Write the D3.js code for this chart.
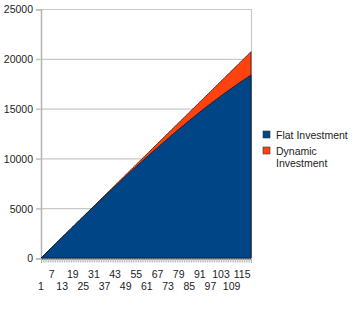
<!DOCTYPE html>
<html>
<head>
<meta charset="utf-8">
<script src="https://cdn.jsdelivr.net/npm/d3@7"></script>
<style>
  body { margin: 0; background: #fff; }
  text { font-family: "Liberation Sans", Arial, sans-serif; fill: #222; }
</style>
</head>
<body>
<svg class="chart" width="356" height="324"></svg>
<script>
// months 1..120
const months = d3.range(1, 121).map(String);

// cumulative value, flat investment
const flatValues = [
  0, 170, 350, 520, 700, 870, 1040, 1220, 1390, 1570,
  1740, 1910, 2090, 2260, 2440, 2610, 2770, 2950, 3120, 3300,
  3470, 3640, 3820, 3980, 4160, 4330, 4500, 4670, 4840, 5020,
  5180, 5350, 5520, 5690, 5870, 6030, 6200, 6370, 6530, 6710,
  6870, 7030, 7210, 7370, 7540, 7700, 7870, 8040, 8200, 8370,
  8530, 8690, 8860, 9010, 9180, 9340, 9500, 9660, 9820, 9990,
  10140, 10300, 10460, 10610, 10780, 10930, 11080, 11240, 11390, 11550,
  11700, 11850, 12010, 12160, 12320, 12460, 12610, 12770, 12910, 13070,
  13210, 13350, 13500, 13650, 13800, 13940, 14080, 14230, 14360, 14510,
  14650, 14780, 14930, 15060, 15210, 15340, 15470, 15610, 15740, 15880,
  16010, 16140, 16280, 16400, 16540, 16660, 16790, 16920, 17040, 17170,
  17290, 17410, 17540, 17660, 17780, 17900, 18010, 18140, 18250, 18370
];

// cumulative value, dynamic investment
const dynamicValues = [
  0, 170, 350, 520, 700, 870, 1040, 1220, 1390, 1570,
  1740, 1910, 2090, 2260, 2440, 2610, 2780, 2960, 3130, 3310,
  3480, 3650, 3830, 4000, 4180, 4350, 4520, 4700, 4870, 5050,
  5220, 5390, 5570, 5740, 5920, 6090, 6260, 6440, 6610, 6790,
  6960, 7130, 7310, 7480, 7660, 7830, 8000, 8180, 8350, 8530,
  8700, 8870, 9050, 9220, 9400, 9570, 9740, 9920, 10090, 10270,
  10440, 10610, 10790, 10960, 11140, 11310, 11480, 11660, 11830, 12010,
  12180, 12350, 12530, 12700, 12880, 13050, 13220, 13400, 13570, 13750,
  13920, 14090, 14270, 14440, 14620, 14790, 14960, 15140, 15310, 15490,
  15660, 15830, 16010, 16180, 16360, 16530, 16700, 16880, 17050, 17230,
  17400, 17570, 17750, 17920, 18100, 18270, 18440, 18620, 18790, 18970,
  19140, 19310, 19490, 19660, 19840, 20010, 20180, 20360, 20530, 20710
];

const seriesNames = ["Flat Investment", "Dynamic Investment"];
const seriesColors = ["#004586", "#ff420e"];
const yTicks = [0, 5000, 10000, 15000, 20000, 25000];
const xTickLabels = d3.range(1, 121, 6).map(String); // 1, 7, 13 ... 115

const svg = d3.select(".chart");

const plotLeft = 41, plotRight = 251, plotTop = 9, plotBottom = 258;

const x = d3.scalePoint().domain(months).range([plotLeft, plotRight]);
const y = d3.scaleLinear().domain([0, 25000]).range([plotBottom, plotTop]);

// gridlines
svg.append("g")
  .selectAll("line")
  .data(yTicks)
  .join("line")
  .attr("x1", plotLeft - 5)
  .attr("x2", plotRight)
  .attr("y1", d => y(d) + 0.5)
  .attr("y2", d => y(d) + 0.5)
  .attr("stroke", "#c8c8c8")
  .attr("stroke-width", 1.2);

// right border
svg.append("line")
  .attr("x1", plotRight + 0.5).attr("x2", plotRight + 0.5)
  .attr("y1", plotTop).attr("y2", plotBottom)
  .attr("stroke", "#c8c8c8").attr("stroke-width", 1.2);

// y axis labels
const yAxis = d3.axisLeft(y).tickValues(yTicks).tickSize(5).tickPadding(3).tickFormat(d3.format("d"));
const gy = svg.append("g")
  .attr("transform", `translate(${plotLeft},0.5)`)
  .call(yAxis);
gy.select(".domain").attr("stroke", "#b3b3b3").attr("stroke-width", 1.5);
gy.selectAll(".tick line").attr("stroke", "#c8c8c8");
gy.selectAll(".tick text")
  .style("font-size", "10.5px")
  .style("font-family", "Liberation Sans, Arial, sans-serif")
  .attr("fill", "#222");

// areas
const area = values => d3.area()
  .x((d, i) => x(months[i]))
  .y0(y(0))
  .y1(d => y(d))(values);

svg.append("path")
  .attr("d", area(dynamicValues))
  .attr("fill", seriesColors[1])
  .attr("stroke", "#2a1a10")
  .attr("stroke-width", 0.8);

svg.append("path")
  .attr("d", area(flatValues))
  .attr("fill", seriesColors[0])
  .attr("stroke", "#0a1a2a")
  .attr("stroke-width", 0.8);

// x axis with dense gray ticks
const xAxis = d3.axisBottom(x).tickSize(4).tickFormat("");
const gx = svg.append("g")
  .attr("transform", `translate(0,${plotBottom + 0.5})`)
  .call(xAxis);
gx.select(".domain").attr("stroke", "#1a2a3a");
gx.selectAll(".tick line").attr("stroke", "#b8b8b8");

// x labels, alternating rows
svg.append("g")
  .selectAll("text")
  .data(xTickLabels)
  .join("text")
  .attr("x", d => x(d))
  .attr("y", (d, i) => i % 2 === 0 ? 290 : 278)
  .attr("text-anchor", "middle")
  .style("font-size", "10.5px")
  .text(d => d);

// legend
const legend = svg.append("g").attr("transform", "translate(263,131)");
const rows = [
  { color: seriesColors[0], lines: ["Flat Investment"], y: 0 },
  { color: seriesColors[1], lines: ["Dynamic", "Investment"], y: 16 }
];
rows.forEach(r => {
  legend.append("rect")
    .attr("x", 0).attr("y", r.y)
    .attr("width", 7).attr("height", 7)
    .attr("fill", r.color)
    .attr("stroke", "#333").attr("stroke-width", 0.6);
  r.lines.forEach((t, j) => {
    legend.append("text")
      .attr("x", 13)
      .attr("y", r.y + 7.5 + j * 12)
      .style("font-size", "10.5px")
      .text(t);
  });
});
</script>
</body>
</html>
